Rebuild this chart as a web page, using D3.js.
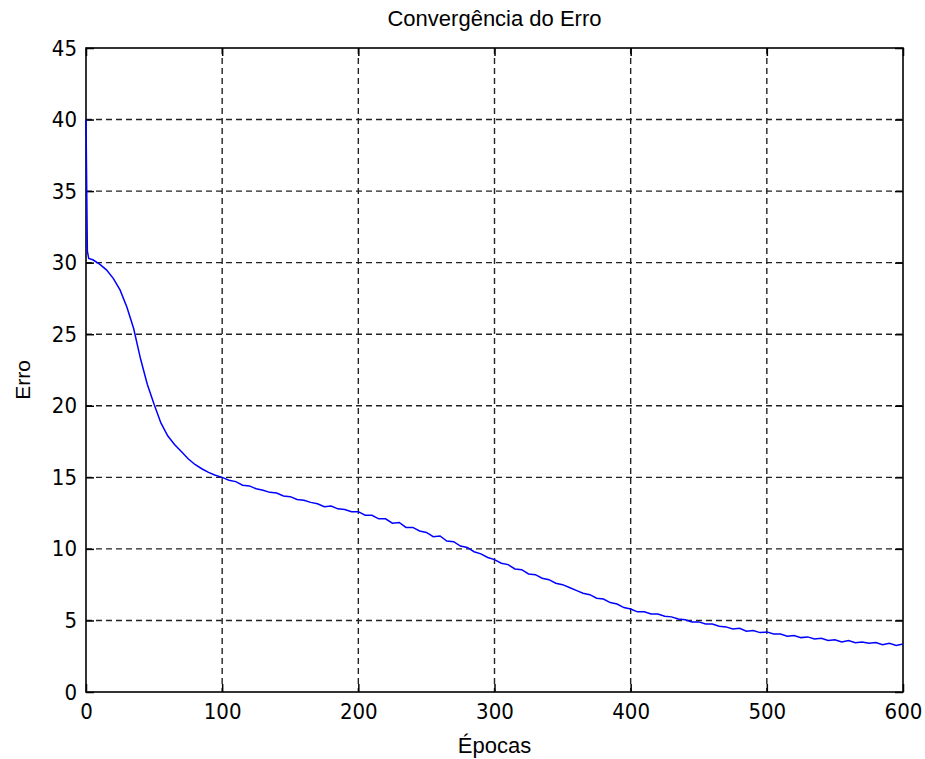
<!DOCTYPE html>
<html>
<head>
<meta charset="utf-8">
<script src="https://cdn.jsdelivr.net/npm/d3@7"></script>
<style>
  body { margin: 0; background: #fff; }
  svg text { font-family: "Liberation Sans", Arial, sans-serif; fill: #000; }
  svg .tick text { font-family: "DejaVu Sans Condensed", "Liberation Sans Narrow", "Liberation Sans", sans-serif; font-stretch: condensed; }
</style>
</head>
<body>
<svg id="chart" width="925" height="759"></svg>
<script>
// epochs and error values
const epochs = [0, 1, 2, 5, 10, 15, 20, 25, 30, 35, 40, 45, 50, 55, 60, 65, 70, 75, 80, 85, 90, 95,
  100, 105, 110, 115, 120, 125, 130, 135, 140, 145, 150, 155, 160, 165, 170, 175, 180, 185, 190, 195,
  200, 205, 210, 215, 220, 225, 230, 235, 240, 245, 250, 255, 260, 265, 270, 275, 280, 285, 290, 295,
  300, 305, 310, 315, 320, 325, 330, 335, 340, 345, 350, 355, 360, 365, 370, 375, 380, 385, 390, 395,
  400, 405, 410, 415, 420, 425, 430, 435, 440, 445, 450, 455, 460, 465, 470, 475, 480, 485, 490, 495,
  500, 505, 510, 515, 520, 525, 530, 535, 540, 545, 550, 555, 560, 565, 570, 575, 580, 585, 590, 595, 600];
const erro = [40.0, 30.8, 30.3, 30.2, 29.9, 29.5, 28.9, 28.1, 26.9, 25.4, 23.3, 21.5, 20.1, 18.8, 17.9, 17.3, 16.8, 16.3, 15.9, 15.6, 15.35, 15.15,
  15.0, 14.8, 14.7, 14.45, 14.4, 14.2, 14.1, 13.95, 13.9, 13.7, 13.65, 13.45, 13.4, 13.25, 13.15, 12.95, 13.0, 12.8, 12.75, 12.6,
  12.6, 12.35, 12.35, 12.1, 12.1, 11.8, 11.85, 11.5, 11.5, 11.25, 11.15, 10.85, 10.9, 10.55, 10.5, 10.2, 10.1, 9.8, 9.65, 9.4,
  9.25, 9.0, 8.9, 8.6, 8.55, 8.25, 8.2, 7.95, 7.85, 7.6, 7.5, 7.3, 7.1, 6.9, 6.8, 6.55, 6.5, 6.25, 6.15, 5.9,
  5.8, 5.6, 5.6, 5.45, 5.45, 5.3, 5.25, 5.1, 5.05, 4.9, 4.9, 4.75, 4.75, 4.6, 4.55, 4.4, 4.45, 4.25, 4.3, 4.15,
  4.2, 4.05, 4.05, 3.9, 3.95, 3.8, 3.85, 3.7, 3.75, 3.6, 3.65, 3.5, 3.6, 3.45, 3.5, 3.4, 3.45, 3.3, 3.4, 3.25, 3.35];
const xTicks = [0, 100, 200, 300, 400, 500, 600];
const yTicks = [0, 5, 10, 15, 20, 25, 30, 35, 40, 45];

const margin = { top: 48, right: 22, bottom: 67, left: 86 };
const svg = d3.select('#chart');
const width = 925 - margin.left - margin.right;
const height = 759 - margin.top - margin.bottom;
const g = svg.append('g').attr('transform', `translate(${margin.left},${margin.top})`);

const x = d3.scaleLinear().domain([0, 600]).range([0, width]);
const y = d3.scaleLinear().domain([0, 45]).range([height, 0]);

// dashed grid
g.append('g').selectAll('line').data(xTicks.slice(1, -1)).join('line')
  .attr('x1', d => x(d)).attr('x2', d => x(d)).attr('y1', 0).attr('y2', height)
  .attr('stroke', '#222').attr('stroke-width', 1.4).attr('stroke-dasharray', '6,4');
g.append('g').selectAll('line').data(yTicks.slice(1, -1)).join('line')
  .attr('x1', 0).attr('x2', width).attr('y1', d => y(d)).attr('y2', d => y(d))
  .attr('stroke', '#222').attr('stroke-width', 1.4).attr('stroke-dasharray', '6,4');

// axes with inward ticks, box style
const styleAxis = (sel) => {
  sel.select('.domain').remove();
  sel.selectAll('.tick line').attr('stroke', '#000').attr('stroke-width', 1.5);
  sel.selectAll('.tick text').style('font-size', '22px');
};
g.append('g').attr('transform', `translate(0,${height})`)
  .call(d3.axisBottom(x).tickValues(xTicks).tickSize(-8).tickPadding(11))
  .call(styleAxis);
g.append('g')
  .call(d3.axisLeft(y).tickValues(yTicks).tickSize(-8).tickPadding(9))
  .call(styleAxis);
g.append('g')
  .call(d3.axisTop(x).tickValues(xTicks).tickSize(-8).tickFormat(''))
  .call(styleAxis);
g.append('g').attr('transform', `translate(${width},0)`)
  .call(d3.axisRight(y).tickValues(yTicks).tickSize(-8).tickFormat(''))
  .call(styleAxis);

g.append('rect').attr('width', width).attr('height', height)
  .attr('fill', 'none').attr('stroke', '#000').attr('stroke-width', 1.6);

const line = d3.line().x(d => x(d[0])).y(d => y(d[1]));
g.append('path')
  .datum(epochs.map((e, i) => [e, erro[i]]))
  .attr('fill', 'none').attr('stroke', '#0000ff').attr('stroke-width', 1.5)
  .attr('d', line);

svg.append('text').attr('x', margin.left + width / 2).attr('y', 26)
  .attr('text-anchor', 'middle').style('font-size', '22px').text('Convergência do Erro');
svg.append('text').attr('x', margin.left + width / 2).attr('y', 753)
  .attr('text-anchor', 'middle').style('font-size', '22px').text('Épocas');
svg.append('text').attr('transform', `translate(30,${margin.top + height / 2 + 10}) rotate(-90)`)
  .attr('text-anchor', 'middle').style('font-size', '21px').text('Erro');
</script>
</body>
</html>
